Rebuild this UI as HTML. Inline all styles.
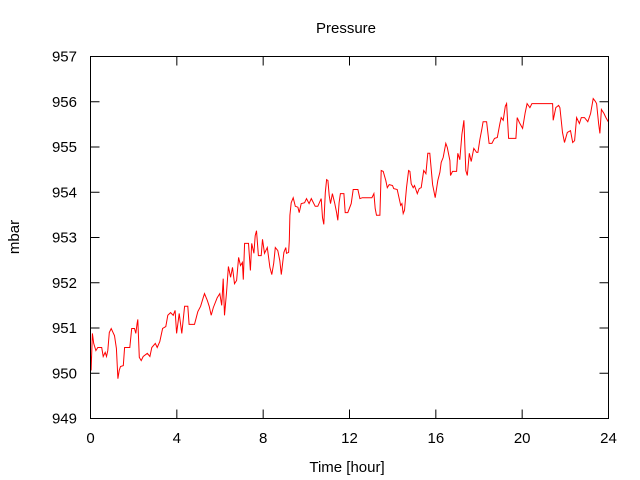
<!DOCTYPE html>
<html><head><meta charset="utf-8"><style>
html,body{margin:0;padding:0;background:#fff}
svg{display:block;font-family:"Liberation Sans","DejaVu Sans",sans-serif}
</style></head><body>
<svg id="chart" width="640" height="480" viewBox="0 0 640 480" xmlns="http://www.w3.org/2000/svg">
<rect width="640" height="480" fill="#fff"/>
<text x="346" y="33" font-size="15" text-anchor="middle">Pressure</text>
<text x="347" y="472" font-size="15" text-anchor="middle">Time [hour]</text>
<text x="0" y="0" font-size="15" text-anchor="middle" transform="translate(19,237) rotate(-90)">mbar</text>
<g id="axes"></g>
<g id="series"></g>
<rect x="90.5" y="56.5" width="518" height="362" fill="none" stroke="#000" stroke-width="1"/>
</svg>
<script>
const hours=[0,0.03,0.09,0.15,0.25,0.34,0.52,0.59,0.68,0.74,0.80,0.87,0.96,1.11,1.20,1.27,1.33,1.39,1.52,1.58,1.82,1.91,2.04,2.10,2.16,2.19,2.26,2.35,2.44,2.63,2.75,2.84,3.00,3.09,3.21,3.34,3.49,3.58,3.71,3.83,3.92,3.99,4.11,4.23,4.36,4.51,4.57,4.82,4.97,5.10,5.22,5.28,5.41,5.50,5.59,5.69,5.87,5.99,6.08,6.15,6.21,6.30,6.39,6.49,6.58,6.67,6.77,6.86,6.95,7.04,7.08,7.14,7.32,7.41,7.47,7.57,7.63,7.69,7.78,7.91,7.97,8.06,8.19,8.31,8.40,8.49,8.56,8.68,8.77,8.84,8.96,9.05,9.08,9.18,9.21,9.24,9.30,9.39,9.49,9.61,9.67,9.76,9.92,10.01,10.13,10.23,10.41,10.53,10.69,10.75,10.81,10.88,10.94,11.00,11.06,11.12,11.21,11.31,11.40,11.46,11.52,11.58,11.74,11.80,11.92,12.08,12.17,12.39,12.48,12.60,13.04,13.13,13.19,13.25,13.41,13.47,13.56,13.68,13.75,13.84,13.99,14.05,14.21,14.37,14.43,14.49,14.55,14.64,14.74,14.80,14.86,14.95,15.01,15.14,15.23,15.32,15.44,15.54,15.63,15.72,15.85,15.97,16.09,16.19,16.25,16.34,16.46,16.53,16.65,16.68,16.77,16.96,17.02,17.11,17.21,17.27,17.30,17.39,17.46,17.55,17.64,17.76,17.89,17.95,18.04,18.13,18.19,18.35,18.47,18.60,18.72,18.85,18.97,19.03,19.12,19.22,19.28,19.37,19.71,19.77,19.87,20.02,20.14,20.23,20.36,20.45,21.41,21.44,21.56,21.69,21.75,21.87,21.96,22.09,22.24,22.34,22.43,22.52,22.65,22.74,22.89,23.04,23.17,23.29,23.39,23.45,23.54,23.60,23.67,23.79,23.88,24.0];
const pressure=[950.4,950.06,950.88,950.66,950.50,950.57,950.57,950.37,950.46,950.37,950.50,950.90,950.99,950.83,950.55,949.88,950.06,950.15,950.17,950.57,950.57,950.99,950.99,950.88,951.10,951.19,950.35,950.28,950.37,950.44,950.37,950.57,950.66,950.57,950.70,950.99,951.03,951.28,951.34,951.28,951.39,950.88,951.32,950.88,951.48,951.48,951.08,951.08,951.36,951.48,951.67,951.76,951.61,951.48,951.28,951.45,951.67,951.76,951.50,952.09,951.28,951.78,952.36,952.12,952.34,951.98,952.05,952.56,952.38,952.45,952.07,952.87,952.87,952.27,952.87,952.65,953.04,953.15,952.60,952.60,952.96,952.65,952.78,952.34,952.18,952.43,952.78,952.71,952.49,952.18,952.67,952.78,952.65,952.67,952.93,953.49,953.77,953.88,953.69,953.67,953.55,953.75,953.77,953.86,953.75,953.86,953.69,953.69,953.86,953.44,953.29,953.99,954.28,954.26,953.93,953.75,953.97,953.77,953.55,953.38,953.77,953.97,953.97,953.55,953.55,953.75,954.06,954.06,953.86,953.88,953.88,953.97,953.64,953.49,953.49,954.48,954.46,954.26,954.10,954.17,954.15,954.08,954.06,953.71,953.75,953.53,953.60,954.10,954.48,954.46,954.19,954.10,954.15,953.97,954.08,954.10,954.48,954.41,954.86,954.86,954.17,953.88,954.26,954.44,954.66,954.77,955.08,954.99,954.70,954.37,954.46,954.46,954.86,954.72,955.28,955.48,955.59,954.48,954.37,954.86,954.68,954.97,954.88,954.88,955.17,955.39,955.56,955.56,955.08,955.08,955.19,955.21,955.52,955.65,955.59,955.90,955.96,955.19,955.19,955.65,955.54,955.41,955.76,955.96,955.87,955.96,955.96,955.59,955.87,955.92,955.87,955.32,955.10,955.32,955.36,955.10,955.14,955.65,955.52,955.65,955.65,955.56,955.74,956.07,956.01,955.96,955.52,955.30,955.83,955.74,955.65,955.55];
const xTicks=[0,4,8,12,16,20,24];
const yTicks=[949,950,951,952,953,954,955,956,957];

const X0=90.5,X1=608.5,Y0=418.5,Y1=56.5;
const xs=h=>X0+(h-0)/(24-0)*(X1-X0);
const ys=v=>Y0-(v-949)/(957-949)*(Y0-Y1);
const NS="http://www.w3.org/2000/svg";
const axes=document.getElementById('axes');
function mk(tag,attrs,parent){const e=document.createElementNS(NS,tag);for(const k in attrs)e.setAttribute(k,attrs[k]);parent.appendChild(e);return e;}
const TL=9;
yTicks.forEach(v=>{
  const y=ys(v);
  const t=mk('path',{d:`M${X0},${y}h${TL}M${X1},${y}h${-TL}`,stroke:'#000','stroke-width':1},axes);
  
  
  const l=mk('text',{x:77,y:y+5,'font-size':15,'text-anchor':'end'},axes);
  l.textContent=v;
  
  
});
xTicks.forEach(h=>{
  const x=xs(h);
  const t=mk('path',{d:`M${x},${Y0}v${-TL}M${x},${Y1}v${TL}`,stroke:'#000','stroke-width':1},axes);
  
  
  const l=mk('text',{x:x,y:443,'font-size':15,'text-anchor':'middle'},axes);
  l.textContent=h;
  
  
});
let d='';
hours.forEach((h,i)=>{d+=(i?'L':'M')+xs(h).toFixed(1)+','+ys(pressure[i]).toFixed(1);});
const line=mk('path',{d:d,fill:'none',stroke:'#ff0000','stroke-width':1},document.getElementById('series'));


</script>
</body></html>
